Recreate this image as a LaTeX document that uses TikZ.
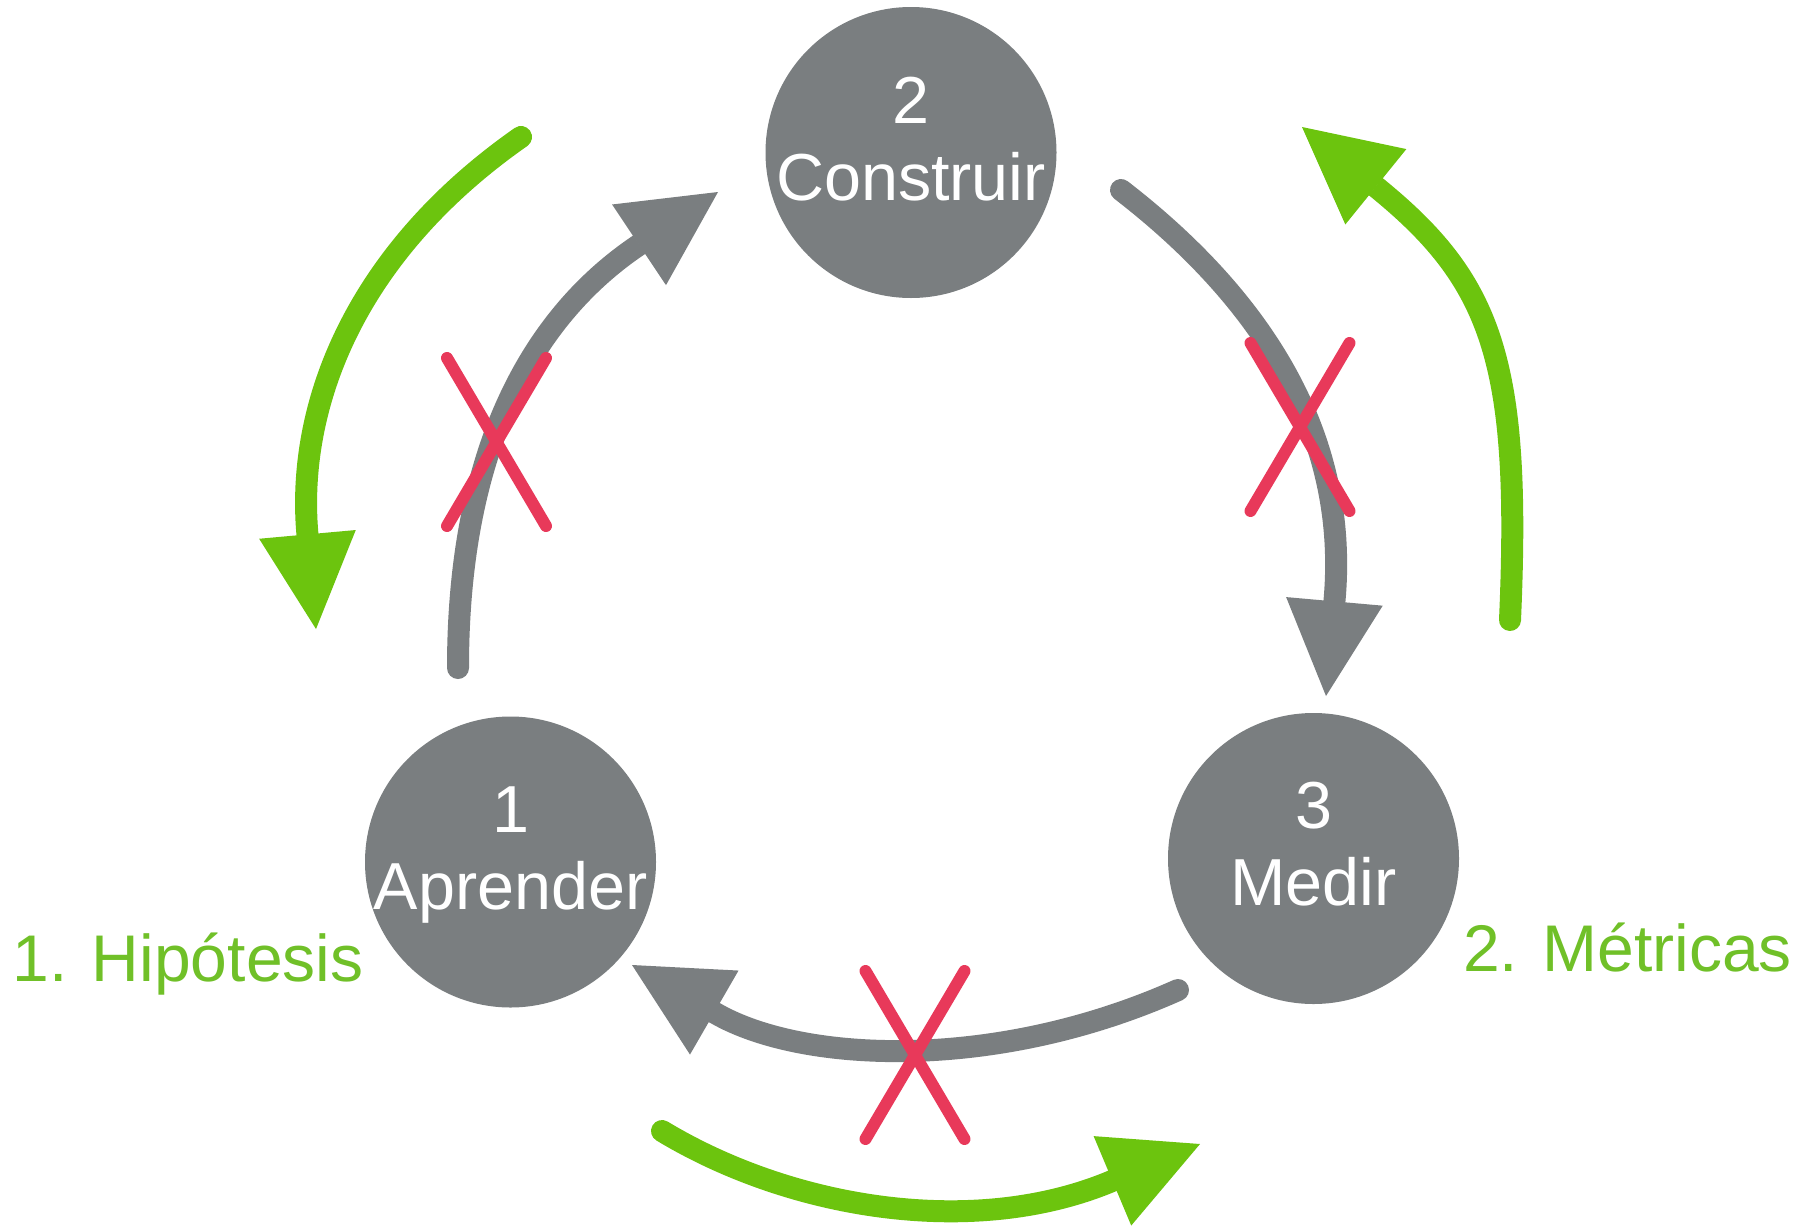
\documentclass[tikz,border=0pt]{standalone}
\usepackage{fontspec}
\setmainfont{Liberation Sans}
\usetikzlibrary{arrows.meta}
\definecolor{cgrey}{RGB}{122,126,128}
\definecolor{cgreen}{RGB}{108,196,14}
\definecolor{ctext}{RGB}{112,192,40}
\definecolor{cred}{RGB}{232,57,90}
\begin{document}
\begin{tikzpicture}[x=1pt,y=-1pt,
  stage/.style={circle, fill=cgrey, minimum size=291pt, inner sep=0pt},
  stagetext/.style={text=white, font=\fontsize{66.5}{77}\selectfont, anchor=base, inner sep=0pt},
  headtip/.style={-{Triangle[length=95pt,width=97pt,line width=0pt]}},
  greyarrow/.style={draw=cgrey, line width=22pt, line cap=round, headtip},
  greenarrow/.style={draw=cgreen, line width=22pt, line cap=round, headtip},
  cross/.style={draw=cred, line width=12pt, line cap=round},
  steplabel/.style={text=ctext, font=\fontsize{66}{77}\selectfont, anchor=base, inner sep=0pt}]
\fill[white] (0,0) rectangle (1810,1229);
\useasboundingbox (0,0) rectangle (1810,1229);

% stages
\node[stage] (c1) at (510.5,862) {};
\node[stage] (c2) at (911,152.5) {};
\node[stage] (c3) at (1313.5,858.5) {};
\node[stagetext] (c1n) at ([yshift=29.5pt]c1.center) {1};
\node[stagetext] (c1t) at ([yshift=-47pt]c1.center) {Aprender};
\node[stagetext] (c2n) at ([yshift=29pt]c2.center) {2};
\node[stagetext] (c2t) at ([yshift=-48pt]c2.center) {Construir};
\node[stagetext] (c3n) at ([yshift=30pt]c3.center) {3};
\node[stagetext] (c3t) at ([yshift=-46.5pt]c3.center) {Medir};

% green labels
\node[steplabel] (hyp) at (188,981) {1. Hipótesis};
\node[steplabel] (met) at (1627.5,971) {2. Métricas};

% grey arrows (start, base of head, tip)
\coordinate (ga0) at (458,668);
\coordinate (gab) at (639.5,244.5);
\coordinate (ga1) at (718,192);
\draw[greyarrow] (ga0) .. controls (458,438) and (539.8,311.2) .. (gab) -- (ga1);
\coordinate (gb0) at (1121,190);
\coordinate (gbb) at (1334.5,600.5);
\coordinate (gb1) at (1326,696);
\draw[greyarrow] (gb0) .. controls (1279,312) and (1347.9,451.1) .. (gbb) -- (gb1);
\coordinate (gc0) at (1178,990);
\coordinate (gcb) at (715.4,1013.2);
\coordinate (gc1) at (632,965);
\draw[greyarrow] (gc0) .. controls (995.4,1071.6) and (802,1063.2) .. (gcb) -- (gc1);

% green arrows
\coordinate (g10) at (521,137);
\coordinate (g1b) at (307.5,535);
\coordinate (g11) at (316,629);
\draw[greenarrow] (g10) .. controls (355,253) and (295.8,405.5) .. (g1b) -- (g11);
\coordinate (g20) at (1510,620);
\coordinate (g2b) at (1375.5,186.5);
\coordinate (g21) at (1302,127);
\draw[greenarrow] (g20) .. controls (1521.4,360) and (1492,280.9) .. (g2b) -- (g21);
\coordinate (g30) at (662,1131);
\coordinate (g3b) at (1112,1181);
\coordinate (g31) at (1200,1144);
\draw[greenarrow] (g30) .. controls (790.4,1208.6) and (973.7,1239.2) .. (g3b) -- (g31);

% red crosses
\draw[cross] (447,358) -- (546,526) (546,358) -- (447,526);
\draw[cross] (1250.5,343) -- (1349.5,511) (1349.5,343) -- (1250.5,511);
\draw[cross] (865.5,971) -- (964.5,1139) (964.5,971) -- (865.5,1139);
\end{tikzpicture}
\end{document}
